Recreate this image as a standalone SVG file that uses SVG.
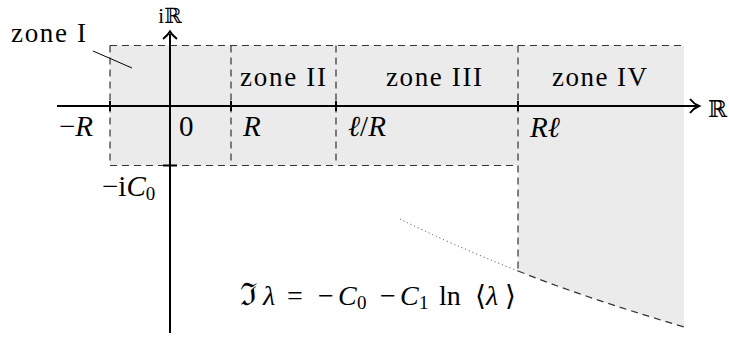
<svg xmlns="http://www.w3.org/2000/svg" width="729" height="338" viewBox="0 0 729 338">
<style>
text{font-family:'Liberation Serif','DejaVu Serif',serif;fill:#000}
.zone{font-size:27px}
.math{font-size:29px}
.it{font-style:italic}
.sub{font-size:19px}
.dash{fill:none;stroke:#333;stroke-width:1.2;stroke-dasharray:7 5}
.axis{fill:none;stroke:#000;stroke-width:2}
.tick{stroke:#000;stroke-width:2}
</style>
<rect width="729" height="338" fill="#fff"/>
<g id="regions">
<path d="M110 45.5 H684 V327 Q580 296 518 271 V165.5 H110 Z" fill="#ebebeb"/>
</g>
<g id="connectors">
<path class="dash" d="M110 45.5 H684"/>
<path class="dash" d="M110 45.5 V165.5 H518"/>
<path class="dash" d="M231 45.5 V165.5"/>
<path class="dash" d="M336 45.5 V165.5"/>
<path class="dash" d="M518 45.5 V271"/>
<path class="dash" d="M518 271 Q580 296 684 327"/>
<path d="M400 219 Q448 243 518 271" fill="none" stroke="#333" stroke-width="1" stroke-dasharray="1 3"/>
<line x1="93" y1="51" x2="132" y2="68" stroke="#000" stroke-width="1"/>
<path class="axis" d="M57 106 H697"/>
<path class="axis" d="M690 99 Q694 104 699 106 Q694 108 690 113" stroke-width="1.8"/>
<path class="axis" d="M170 333 V34"/>
<path class="axis" d="M163 39 Q168 35 170 31.5 Q172 35 177 39" stroke-width="1.8"/>
<line class="tick" x1="110" y1="101" x2="110" y2="111"/>
<line class="tick" x1="231" y1="101" x2="231" y2="111"/>
<line class="tick" x1="336" y1="101" x2="336" y2="111"/>
<line class="tick" x1="518" y1="101" x2="518" y2="111"/>
<line class="tick" x1="163" y1="165.5" x2="177" y2="165.5"/>
</g>
<g id="zone1"><text class="zone" font-family="Liberation Serif, serif" x="11" y="41.5" textLength="75" lengthAdjust="spacing">zone I</text></g>
<g id="zone2"><text class="zone" font-family="Liberation Serif, serif" x="240" y="86" textLength="86" lengthAdjust="spacing">zone II</text></g>
<g id="zone3"><text class="zone" font-family="Liberation Serif, serif" x="386" y="86" textLength="96" lengthAdjust="spacing">zone III</text></g>
<g id="zone4"><text class="zone" font-family="Liberation Serif, serif" x="552" y="86" textLength="95" lengthAdjust="spacing">zone IV</text></g>
<g id="labels" font-family="Liberation Serif, DejaVu Serif, serif">
<text x="170" y="23" font-size="21" text-anchor="middle">iℝ</text>
<text x="708" y="117" font-size="23">ℝ</text>
<text class="math" x="59" y="136">−<tspan class="it">R</tspan></text>
<text class="math" x="179" y="136">0</text>
<text class="math it" x="243" y="136">R</text>
<text class="math it" x="348" y="136">ℓ<tspan font-style="normal">/</tspan>R</text>
<text class="math it" x="530" y="137">Rℓ</text>
<text class="math" x="102" y="196">−i<tspan class="it">C</tspan><tspan class="sub" dy="4">0</tspan></text>
<text y="305" font-size="28"><tspan x="240" font-size="31">ℑ</tspan><tspan class="it" x="263">λ</tspan><tspan x="287">=</tspan><tspan x="318">−</tspan><tspan class="it" x="338">C</tspan><tspan class="sub" x="357" dy="4">0</tspan><tspan x="380" dy="-4">−</tspan><tspan class="it" x="400">C</tspan><tspan class="sub" x="419" dy="4">1</tspan><tspan x="439" dy="-4">ln</tspan><tspan x="475">⟨</tspan><tspan class="it" x="486">λ</tspan><tspan x="505">⟩</tspan></text>
</g>
</svg>
